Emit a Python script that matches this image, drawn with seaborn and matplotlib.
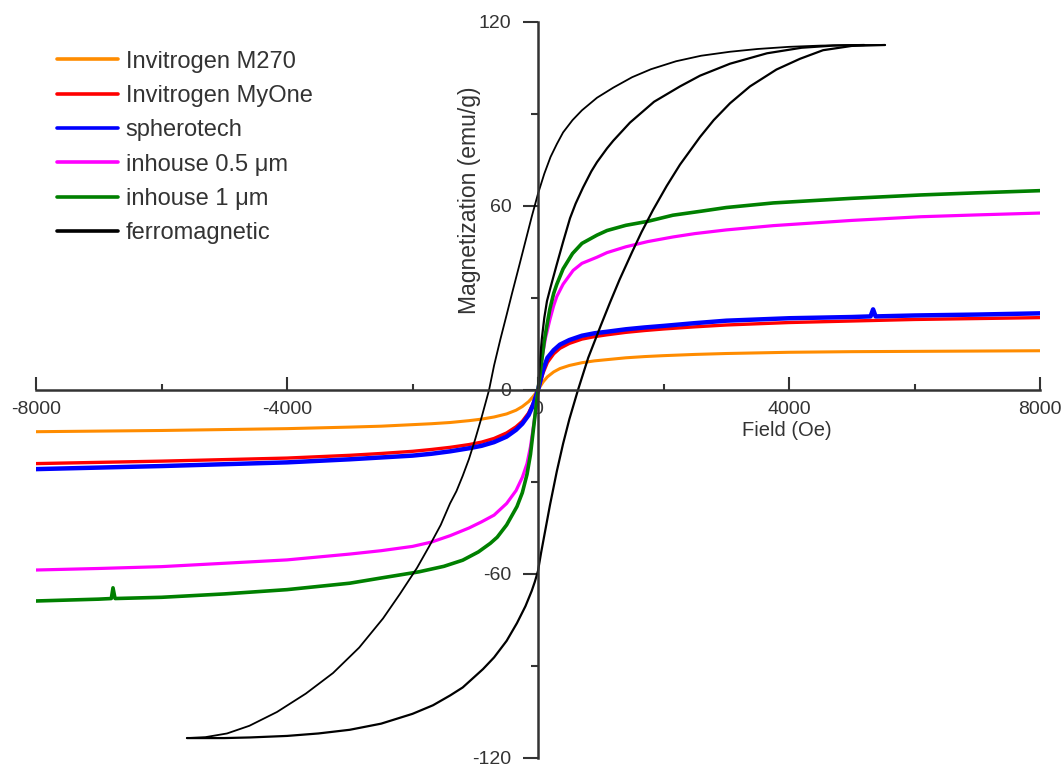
import numpy as np
import pandas as pd
import matplotlib
matplotlib.use('Agg')
import matplotlib.pyplot as plt
from matplotlib.ticker import MultipleLocator
import seaborn as sns

# ---- data (field in Oe, magnetization in emu/g) ----
soft_x = [-8000, -7000, -6000, -5000, -4000, -3000, -2500, -2000, -1700, -1400, -1100,
          -900, -700, -500, -350, -250, -150, -80, 0, 80, 150, 250, 350, 500, 700,
          900, 1100, 1400, 1700, 2000, 2500, 3000, 4000, 5000, 6000, 7000, 8000]

m270_y = [-13.6, -13.4, -13.2, -12.9, -12.6, -12.1, -11.8, -11.3, -11.0, -10.6, -10.0,
          -9.5, -8.8, -7.8, -6.6, -5.4, -3.8, -2.2, 0, 2.6, 4.3, 5.9, 7.0, 8.0, 8.9,
          9.5, 9.9, 10.5, 10.9, 11.2, 11.6, 11.9, 12.3, 12.5, 12.6, 12.7, 12.8]

myone_y = [-24.0, -23.6, -23.2, -22.7, -22.2, -21.3, -20.7, -20.0, -19.4, -18.7, -17.8,
           -17.0, -15.8, -14.0, -12.0, -10.2, -7.5, -4.5, 0, 5.5, 9.0, 11.8, 13.6, 15.2, 16.6,
           17.4, 18.0, 18.8, 19.4, 19.9, 20.6, 21.2, 22.0, 22.5, 23.0, 23.3, 23.6]

sphero_x = soft_x[:34] + [5300, 5340, 5380] + soft_x[34:]
sphero_y = [-25.8, -25.3, -24.8, -24.2, -23.6, -22.6, -22.0, -21.4, -20.8, -20.0, -19.0,
            -18.2, -17.0, -15.2, -13.0, -11.0, -8.2, -5.0, 0, 6.5, 10.5, 13.0, 14.8, 16.3, 17.7,
            18.5, 19.0, 19.8, 20.4, 20.9, 21.8, 22.6, 23.4, 23.8,
            24.0, 26.3, 24.0,
            24.3, 24.6, 25.0]

ih05_x = [-8000, -7000, -6000, -5000, -4000, -3000, -2500, -2000, -1700, -1400, -1100,
          -900, -700, -500, -350, -250, -175, -120, -60, 0, 60, 120, 190, 250, 300, 400,
          560, 700, 940, 1100, 1400, 1750, 2150, 2500, 3000, 3750, 5000, 6100, 7000, 8000]
ih05_y = [-58.7, -58.2, -57.6, -56.5, -55.4, -53.5, -52.4, -51.0, -49.6, -47.5, -45.0,
          -43.0, -40.8, -37.0, -32.8, -28.5, -24.0, -18.5, -10.0, 0, 10.0, 17.0, 23.0, 27.5, 30.5, 34.5,
          39.0, 41.3, 43.3, 44.8, 46.7, 48.4, 49.9, 51.0, 52.2, 53.6, 55.3, 56.5, 57.1, 57.7]

ih1_x = [-8000, -7000, -6800, -6773, -6740, -6000, -5000, -4000, -3000, -2500, -1900,
         -1500, -1200, -950, -760, -650, -500, -335, -250, -175, -120, -80, -40, 0, 50,
         100, 150, 190, 250, 300, 400, 550, 700, 940, 1100, 1400, 1750, 2150, 2600,
         3000, 3750, 5000, 6100, 7000, 8000]
ih1_y = [-68.8, -68.2, -68.0, -64.5, -68.0, -67.6, -66.5, -65.1, -63.0, -61.3, -59.3,
         -57.5, -55.5, -52.8, -50.0, -48.0, -44.0, -38.0, -33.5, -27.5, -21.0, -14.0, -7.0, 0, 8.0,
         16.0, 22.0, 26.5, 31.5, 34.5, 39.5, 44.5, 47.8, 50.5, 52.0, 53.7, 55.0, 57.0, 58.3,
         59.5, 61.0, 62.5, 63.6, 64.3, 65.0]

# ferromagnetic hysteresis loop: descending, ascending and initial branches
fm_desc_x = [5530, 5000, 4500, 4000, 3500, 3060, 2600, 2200, 1800, 1500, 1200, 940, 700,
             550, 400, 300, 200, 100, 0, -100, -200, -300, -414, -500, -600, -700, -780,
             -900, -1000, -1100, -1200, -1300, -1402, -1550, -1721, -1928, -2200, -2470,
             -2850, -3267, -3700, -4160, -4600, -4956, -5300, -5594]
fm_desc_y = [112.5, 112.5, 112.3, 111.9, 111.2, 110.3, 109.0, 107.2, 104.6, 102.0, 98.6, 95.3, 91.2,
             88.0, 84.0, 80.2, 76.0, 70.5, 64.0, 56.5, 48.5, 40.5, 31.5, 24.5, 16.5, 8.0, 0.0,
             -9.0, -16.0, -22.5, -28.0, -33.0, -37.0, -44.0, -50.5, -58.0, -66.5, -74.5,
             -84.0, -92.3, -99.0, -105.0, -109.5, -112.0, -113.2, -113.5]

fm_asc_x = [-5594, -5000, -4590, -4000, -3500, -3000, -2500, -2000, -1673, -1400, -1200,
            -1000, -876, -700, -500, -335, -200, -100, -50, 0, 50, 100, 191, 300, 400,
            500, 637, 800, 1000, 1147, 1300, 1500, 1650, 1833, 2050, 2263, 2582, 2800,
            3060, 3378, 3800, 4175, 4542, 5000, 5530]
fm_asc_y = [-113.5, -113.5, -113.3, -112.8, -112.0, -110.8, -108.8, -105.6, -102.8, -99.6, -97.0,
            -93.3, -91.0, -87.2, -81.8, -76.0, -70.5, -65.5, -62.5, -59.0, -53.0, -47.5, -37.5, -26.5, -17.5,
            -9.5, 0.0, 10.5, 21.0, 28.5, 36.0, 45.0, 51.5, 58.7, 66.5, 73.5, 82.5, 88.0,
            93.5, 99.0, 104.5, 108.0, 110.8, 112.2, 112.5]

fm_init_x = [0, 30, 60, 100, 143, 200, 300, 400, 510, 600, 717, 850, 940, 1100, 1200,
             1466, 1850, 2263, 2582, 3060, 3650, 4200, 4700, 5200]
fm_init_y = [0, 9.0, 16.5, 23.5, 29.0, 33.5, 41.0, 48.3, 56.0, 60.8, 66.0, 71.3, 74.3, 78.8, 81.3,
             87.2, 94.0, 99.0, 102.5, 106.4, 109.8, 111.6, 112.3, 112.5]

series = [
    ("Invitrogen M270", soft_x, m270_y, "#ff8c00", 2.2),
    ("Invitrogen MyOne", soft_x, myone_y, "#ff0000", 2.4),
    ("spherotech", sphero_x, sphero_y, "#0000ff", 3.2),
    ("inhouse 0.5 \u03bcm", ih05_x, ih05_y, "#ff00ff", 2.3),
    ("inhouse 1 \u03bcm", ih1_x, ih1_y, "#008000", 2.6),
]

sns.set_style("white")
plt.rcParams['font.family'] = ['Liberation Sans', 'DejaVu Sans']
plt.rcParams['axes.unicode_minus'] = False

fig = plt.figure(figsize=(10.64, 7.69), dpi=100)
ax = fig.add_axes([36 / 1064, 1 - 758 / 769, 1004 / 1064, 736 / 769])

for name, xs, ys, col, lw in series:
    df = pd.DataFrame({"Field": xs, "M": ys})
    sns.lineplot(data=df, x="Field", y="M", sort=False, estimator=None,
                 color=col, lw=lw, ax=ax, label=name)

# ferromagnetic loop
for i, (xs, ys, lw) in enumerate([(fm_desc_x, fm_desc_y, 1.3),
                                  (fm_asc_x, fm_asc_y, 1.6),
                                  (fm_init_x, fm_init_y, 1.6)]):
    df = pd.DataFrame({"Field": xs, "M": ys})
    sns.lineplot(data=df, x="Field", y="M", sort=False, estimator=None,
                 color="black", lw=lw, ax=ax,
                 label="ferromagnetic" if i == 0 else None)

ax.set_xlim(-8000, 8000)
ax.set_ylim(-120, 120)

# centred axes
for s in ["top", "right"]:
    ax.spines[s].set_visible(False)
ax.spines["left"].set_position(("data", 0))
ax.spines["bottom"].set_position(("data", 0))
for s in ["left", "bottom"]:
    ax.spines[s].set_color("#333333")
    ax.spines[s].set_linewidth(1.8)

ax.xaxis.set_major_locator(MultipleLocator(4000))
ax.xaxis.set_minor_locator(MultipleLocator(2000))
ax.yaxis.set_major_locator(MultipleLocator(60))
ax.yaxis.set_minor_locator(MultipleLocator(30))

ax.tick_params(axis="x", which="both", bottom=True, direction="in", colors="#333333",
               labelcolor="#333333", labelsize=14, pad=8)
ax.tick_params(axis="x", which="major", length=9.5, width=1.5)
ax.tick_params(axis="x", which="minor", length=4.5, width=1.5)
ax.tick_params(axis="y", which="both", left=True, direction="out", colors="#333333",
               labelcolor="#333333", labelsize=14, pad=8)
ax.tick_params(axis="y", which="major", length=11, width=1.5)
ax.tick_params(axis="y", which="minor", length=5, width=1.5)

ax.set_xlabel("Field (Oe)", fontsize=14.5, color="#333333")
ax.set_ylabel("Magnetization (emu/g)", fontsize=16.5, color="#333333")
ax.xaxis.set_label_coords(0.748, 0.458)
ax.yaxis.set_label_coords(0.443, 0.758)

leg = ax.legend(loc="upper left", bbox_to_anchor=(0.021, 0.961), frameon=False,
                fontsize=17, handlelength=2.6, handletextpad=0.3,
                labelspacing=0.52, borderpad=0, borderaxespad=0)
for h in leg.get_lines():
    h.set_linewidth(2.6)
for t in leg.get_texts():
    t.set_color("#333333")

fig.savefig("out.png", dpi=100)
